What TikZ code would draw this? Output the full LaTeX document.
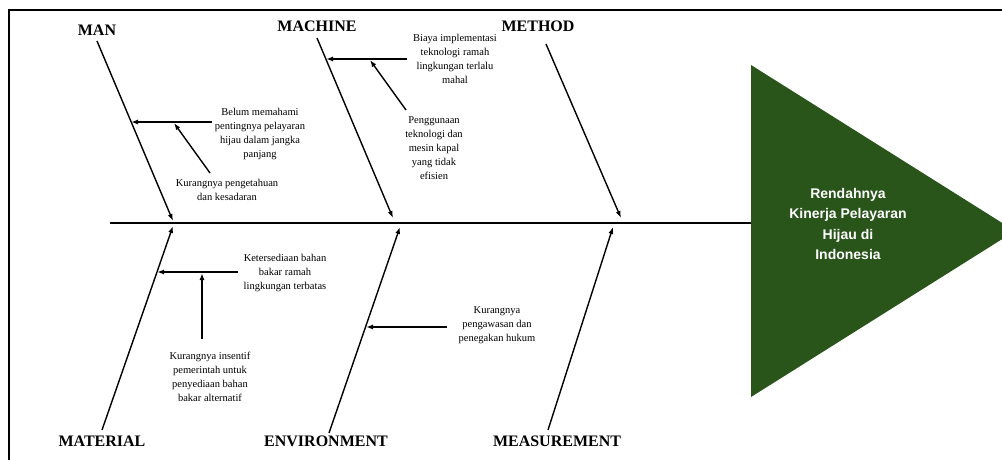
\documentclass[tikz,border=0pt]{standalone}
\usepackage{fontspec}
\setmainfont{Liberation Serif}
\newfontfamily\headfont{Liberation Sans}
\usetikzlibrary{arrows.meta}
\definecolor{fishgreen}{RGB}{41,84,26}
\tikzset{
  bone/.style={line width=1.4pt,-{Latex[length=7pt,width=5pt]}},
  twig/.style={line width=1.4pt,-{Latex[length=7pt,width=5pt]}},
  cat/.style={font=\fontsize{16}{18}\selectfont\bfseries,inner sep=0pt},
  cause/.style={font=\fontsize{10.5}{14}\selectfont,align=center,inner sep=0pt},
  effect/.style={font=\headfont\fontsize{14}{20.3}\selectfont\bfseries,text=white,align=center,inner sep=0pt}
}
\begin{document}
\begin{tikzpicture}[x=1pt,y=-1pt]
    \useasboundingbox (0,0) rectangle (1002,459);
    \clip (0,0) rectangle (1002,459);

    % frame (only top and left are inside the page)
    \draw[line width=2pt] (9,480) -- (9,9.5) -- (1020,9.5);

    % head
    \fill[fishgreen] (751,65) -- (1015,231) -- (751,397) -- cycle;
    \node[effect] (head) at (848,224) {Rendahnya\\Kinerja Pelayaran\\Hijau di\\Indonesia};

    % spine
    \coordinate (tail) at (110,223);
    \coordinate (spineend) at (751,223);
    \draw[line width=1.6pt] (tail) -- (spineend);

    % categories
    \node[cat] (man) at (97,30) {MAN};
    \node[cat] (machine) at (317,26) {MACHINE};
    \node[cat] (method) at (538,26) {METHOD};
    \node[cat] (material) at (102,441) {MATERIAL};
    \node[cat] (environment) at (326,441) {ENVIRONMENT};
    \node[cat] (measurement) at (557,441) {MEASUREMENT};

    % bones
    \coordinate (manS) at (97,41);         \coordinate (manE) at (173,221);
    \coordinate (machineS) at (317,38);    \coordinate (machineE) at (393,218);
    \coordinate (methodS) at (546,44);     \coordinate (methodE) at (621,218);
    \coordinate (materialS) at (102,430);  \coordinate (materialE) at (173,226);
    \coordinate (envS) at (329,433);       \coordinate (envE) at (400,227);
    \coordinate (measS) at (548,430);      \coordinate (measE) at (613,227);
    \draw[bone] (manS) -- (manE);
    \draw[bone] (machineS) -- (machineE);
    \draw[bone] (methodS) -- (methodE);
    \draw[bone] (materialS) -- (materialE);
    \draw[bone] (envS) -- (envE);
    \draw[bone] (measS) -- (measE);

    % man
    \node[cause] (man1) at (260,134) {Belum memahami\\pentingnya pelayaran\\hijau dalam jangka\\panjang};
    \node[cause] (man2) at (227,190) {Kurangnya pengetahuan\\dan kesadaran};
    \coordinate (man1a) at (212,122);   \coordinate (man1b) at (131,122);
    \coordinate (man2a) at (210,173);   \coordinate (man2b) at (174,123);
    \draw[twig] (man1a) -- (man1b);
    \draw[twig] (man2a) -- (man2b);

    % machine
    \node[cause] (mach1) at (455,59) {Biaya implementasi\\teknologi ramah\\lingkungan terlalu\\mahal};
    \node[cause] (mach2) at (434,148) {Penggunaan\\teknologi dan\\mesin kapal\\yang tidak\\efisien};
    \coordinate (mach1a) at (407,59);   \coordinate (mach1b) at (326,59);
    \coordinate (mach2a) at (406,110);  \coordinate (mach2b) at (370,60);
    \draw[twig] (mach1a) -- (mach1b);
    \draw[twig] (mach2a) -- (mach2b);

    % material
    \node[cause] (mat1) at (285,273) {Ketersediaan bahan\\bakar ramah\\lingkungan terbatas};
    \node[cause] (mat2) at (210,377) {Kurangnya insentif\\pemerintah untuk\\penyediaan bahan\\bakar alternatif};
    \coordinate (mat1a) at (238,272);   \coordinate (mat1b) at (157,272);
    \coordinate (mat2a) at (202,339);   \coordinate (mat2b) at (202,273);
    \draw[twig] (mat1a) -- (mat1b);
    \draw[twig] (mat2a) -- (mat2b);

    % environment
    \node[cause] (env1) at (497,325) {Kurangnya\\pengawasan dan\\penegakan hukum};
    \coordinate (env1a) at (447,327);   \coordinate (env1b) at (366,327);
    \draw[twig] (env1a) -- (env1b);

\end{tikzpicture}
\end{document}
